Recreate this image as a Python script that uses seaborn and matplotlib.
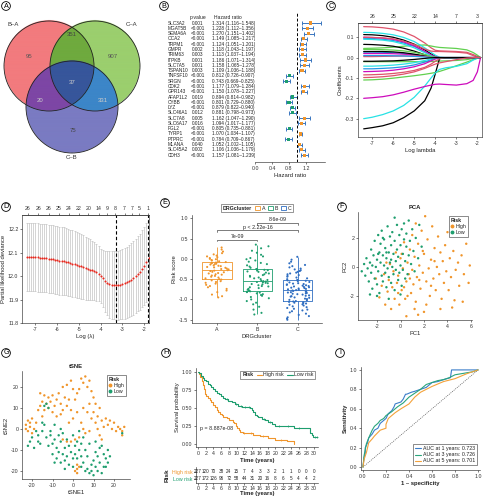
import numpy as np
import pandas as pd
import seaborn as sns
import matplotlib.pyplot as plt
import matplotlib.colors as mcolors
from matplotlib.patches import Circle, Patch
from matplotlib.lines import Line2D

# ---------------- data ----------------
# A  Venn
venn_sets = ['B–A', 'C–A', 'C–B']
venn_regions = ['100', '110', '010', '111', '101', '011', '001']
venn_counts = [95, 351, 907, 37, 20, 331, 75]

# B  univariate Cox
genes = ['SLC3A2', 'MGAT5B', 'SEMA6A', 'OCA2', 'TRPM1', 'GMPR', 'TRIM63', 'ITPKB', 'SLC7A5',
         'TSPAN10', 'TNFSF10', 'SRGN', 'CDK2', 'GPR143', 'AFAP1L2', 'CYBB', 'LYZ', 'SLC46A1',
         'SLC7A8', 'SLC6A17', 'FGL2', 'TYRP1', 'PTPRC', 'MLANA', 'SLC45A2', 'CDH3']
pvals = ['0.001', '<0.001', '<0.001', '<0.001', '<0.001', '0.002', '0.003', '0.001', '0.001',
         '0.003', '<0.001', '<0.001', '<0.001', '<0.001', '0.019', '<0.001', '<0.001', '0.012',
         '0.005', '0.016', '<0.001', '<0.001', '<0.001', '0.040', '0.002', '<0.001']
hr = [1.314, 1.228, 1.270, 1.149, 1.124, 1.118, 1.113, 1.186, 1.158, 1.109, 0.812, 0.743, 1.177,
      1.150, 0.894, 0.801, 0.879, 0.881, 1.162, 1.094, 0.805, 1.070, 0.784, 1.052, 1.106, 1.157]
hr_lo = [1.116, 1.112, 1.151, 1.085, 1.051, 1.043, 1.037, 1.071, 1.065, 1.036, 0.726, 0.669, 1.079,
         1.078, 0.814, 0.729, 0.822, 0.798, 1.047, 1.017, 0.735, 1.034, 0.709, 1.002, 1.036, 1.081]
hr_hi = [1.548, 1.356, 1.402, 1.217, 1.201, 1.197, 1.194, 1.314, 1.278, 1.188, 0.907, 0.825, 1.284,
         1.227, 0.982, 0.880, 0.940, 0.973, 1.290, 1.177, 0.881, 1.107, 0.867, 1.105, 1.179, 1.239]

# C  lasso coefficient paths
lasso_loglam = [-7.4, -7.0, -6.5, -6.0, -5.5, -5.0, -4.5, -4.2, -4.0, -3.8, -3.5, -3.0, -2.5, -2.2, -2.0, -1.85]
lasso_coefs = [
    [0.113, 0.112, 0.108, 0.100, 0.086, 0.066, 0.038, 0.018, 0.006, 0, 0, 0, 0, 0, 0, 0],
    [0.152, 0.151, 0.147, 0.140, 0.126, 0.104, 0.072, 0.048, 0.036, 0.033, 0.032, 0.030, 0.026, 0.015, 0.006, 0],
    [0.045, 0.046, 0.048, 0.051, 0.056, 0.060, 0.062, 0.057, 0.053, 0.050, 0.048, 0.045, 0.038, 0.025, 0.012, 0],
    [0.095, 0.094, 0.090, 0.084, 0.072, 0.055, 0.030, 0.012, 0.003, 0, 0, 0, 0, 0, 0, 0],
    [0.124, 0.123, 0.119, 0.112, 0.099, 0.079, 0.048, 0.026, 0.012, 0.002, 0, 0, 0, 0, 0, 0],
    [0.100, 0.099, 0.096, 0.090, 0.077, 0.058, 0.031, 0.013, 0.004, 0, 0, 0, 0, 0, 0, 0],
    [0.065, 0.064, 0.061, 0.056, 0.046, 0.032, 0.014, 0.004, 0, 0, 0, 0, 0, 0, 0, 0],
    [0.100, 0.099, 0.097, 0.092, 0.081, 0.064, 0.042, 0.032, 0.030, 0.030, 0.029, 0.027, 0.022, 0.010, 0.002, 0],
    [-0.020, -0.020, -0.020, -0.020, -0.020, -0.020, -0.020, -0.019, -0.018, -0.017, -0.016, -0.014, -0.010, -0.004, 0, 0],
    [0.027, 0.027, 0.026, 0.024, 0.020, 0.014, 0.006, 0.001, 0, 0, 0, 0, 0, 0, 0, 0],
    [0.090, 0.089, 0.086, 0.079, 0.066, 0.048, 0.024, 0.008, 0.001, 0, 0, 0, 0, 0, 0, 0],
    [0.020, 0.020, 0.020, 0.019, 0.017, 0.013, 0.007, 0.002, 0, 0, 0, 0, 0, 0, 0, 0],
    [0.030, 0.030, 0.030, 0.028, 0.024, 0.017, 0.008, 0.002, 0, 0, 0, 0, 0, 0, 0, 0],
    [0.005, 0.005, 0.006, 0.007, 0.008, 0.008, 0.006, 0.003, 0.001, 0, 0, 0, 0, 0, 0, 0],
    [-0.110, -0.109, -0.106, -0.101, -0.095, -0.089, -0.082, -0.077, -0.073, -0.068, -0.058, -0.040, -0.022, -0.010, -0.003, 0],
    [-0.055, -0.055, -0.053, -0.050, -0.045, -0.036, -0.022, -0.010, -0.004, 0, 0, 0, 0, 0, 0, 0],
    [-0.042, -0.042, -0.040, -0.037, -0.032, -0.025, -0.014, -0.006, -0.002, 0, 0, 0, 0, 0, 0, 0],
    [-0.069, -0.068, -0.066, -0.062, -0.055, -0.045, -0.030, -0.016, -0.007, 0, 0, 0, 0, 0, 0, 0],
    [-0.350, -0.344, -0.335, -0.320, -0.295, -0.262, -0.212, -0.150, -0.080, -0.005, 0, 0, 0, 0, 0, 0],
    [-0.085, -0.084, -0.082, -0.078, -0.072, -0.063, -0.048, -0.032, -0.018, -0.006, 0, 0, 0, 0, 0, 0],
    [0.040, 0.040, 0.039, 0.037, 0.033, 0.026, 0.015, 0.006, 0.001, 0, 0, 0, 0, 0, 0, 0],
    [0.010, 0.010, 0.010, 0.009, 0.008, 0.006, 0.003, 0.001, 0, 0, 0, 0, 0, 0, 0, 0],
    [-0.300, -0.293, -0.280, -0.262, -0.235, -0.195, -0.140, -0.100, -0.075, -0.058, -0.050, -0.043, -0.030, -0.012, -0.003, 0],
    [-0.200, -0.197, -0.192, -0.183, -0.170, -0.155, -0.142, -0.135, -0.131, -0.130, -0.132, -0.135, -0.128, -0.112, -0.070, 0],
    [-0.018, -0.018, -0.017, -0.016, -0.013, -0.009, -0.004, -0.001, 0, 0, 0, 0, 0, 0, 0, 0],
    [-0.098, -0.097, -0.094, -0.089, -0.081, -0.070, -0.053, -0.040, -0.032, -0.026, -0.020, -0.010, -0.002, 0, 0, 0],
]
lasso_top_pos = [-7, -6, -5, -4, -3, -2]
lasso_top_lab = ['26', '25', '22', '14', '7', '3']

# D  cross validation
cv_loglam = [-7.4, -7.3, -7.2, -7.1, -7.0, -6.9, -6.8, -6.7, -6.6, -6.5, -6.4, -6.3, -6.2, -6.1, -6.0,
             -5.9, -5.8, -5.7, -5.6, -5.5, -5.4, -5.3, -5.2, -5.1, -5.0, -4.9, -4.8, -4.7, -4.6, -4.5,
             -4.4, -4.3, -4.2, -4.1, -4.0, -3.9, -3.8, -3.7, -3.6, -3.5, -3.4, -3.3, -3.2, -3.1, -3.0,
             -2.9, -2.8, -2.7, -2.6, -2.5, -2.4, -2.3, -2.2, -2.1, -2.0, -1.9, -1.8]
cv_mean = [12.082, 12.082, 12.081, 12.081, 12.080, 12.079, 12.078, 12.077, 12.076, 12.075, 12.074,
           12.072, 12.071, 12.069, 12.068, 12.066, 12.065, 12.063, 12.061, 12.058, 12.056, 12.053,
           12.050, 12.047, 12.044, 12.041, 12.037, 12.034, 12.030, 12.027, 12.024, 12.020, 12.016,
           12.010, 12.001, 11.990, 11.978, 11.970, 11.965, 11.962, 11.961, 11.960, 11.961, 11.963,
           11.966, 11.969, 11.973, 11.979, 11.985, 11.992, 12.000, 12.009, 12.019, 12.031, 12.044,
           12.059, 12.075]
cv_se = [0.145, 0.145, 0.145, 0.145, 0.145, 0.145, 0.145, 0.145, 0.145, 0.145, 0.145, 0.145, 0.145,
         0.145, 0.145, 0.145, 0.144, 0.144, 0.143, 0.143, 0.142, 0.142, 0.141, 0.140, 0.139, 0.138,
         0.136, 0.134, 0.132, 0.130, 0.127, 0.124, 0.121, 0.118, 0.116, 0.122, 0.130, 0.137, 0.142,
         0.145, 0.146, 0.146, 0.147, 0.148, 0.149, 0.150, 0.151, 0.152, 0.154, 0.156, 0.158, 0.160,
         0.162, 0.164, 0.166, 0.168, 0.170]
cv_lines = [-3.32, -1.83]
cv_top_pos = [-7.35, -6.87, -6.39, -5.92, -5.46, -5.0, -4.57, -4.09, -3.71, -3.33, -2.90, -2.57, -2.24, -1.81]
cv_top_lab = ['26', '26', '26', '25', '24', '22', '20', '14', '9', '8', '7', '7', '5', '1']

# E  risk score by cluster
risk_A = [-0.95, -0.92, -0.88, -0.82, -0.78, -0.74, -0.70, -0.67, -0.64, -0.61, -0.59, -0.57, -0.55,
          -0.53, -0.51, -0.50, -0.48, -0.46, -0.44, -0.42, -0.41, -0.39, -0.38, -0.36, -0.35, -0.33,
          -0.32, -0.30, -0.29, -0.28, -0.26, -0.25, -0.24, -0.22, -0.21, -0.20, -0.18, -0.17, -0.16,
          -0.14, -0.13, -0.12, -0.11, -0.10, -0.09, -0.08, -0.06, -0.04, -0.03, -0.01, 0.00, 0.02,
          0.04, 0.06, 0.08, 0.11, 0.14, 0.18, 0.23, 0.28]
risk_B = [-1.37, -1.33, -1.25, -1.18, -1.12, -1.08, -1.04, -1.00, -0.97, -0.94, -0.91, -0.89, -0.87,
          -0.85, -0.83, -0.82, -0.81, -0.80, -0.78, -0.76, -0.74, -0.72, -0.70, -0.68, -0.67, -0.65,
          -0.63, -0.62, -0.60, -0.59, -0.58, -0.57, -0.56, -0.55, -0.54, -0.52, -0.50, -0.48, -0.46,
          -0.44, -0.42, -0.40, -0.38, -0.36, -0.34, -0.32, -0.31, -0.29, -0.28, -0.27, -0.26, -0.25,
          -0.22, -0.19, -0.16, -0.13, -0.10, -0.07, -0.04, -0.01, 0.02, 0.06, 0.10, 0.15, 0.20, 0.26,
          0.31, 0.35]
risk_C = [-1.50, -1.47, -1.44, -1.41, -1.38, -1.35, -1.32, -1.29, -1.27, -1.25, -1.23, -1.21, -1.19,
          -1.17, -1.15, -1.13, -1.12, -1.10, -1.09, -1.08, -1.07, -1.06, -1.05, -1.04, -1.02, -1.01,
          -0.99, -0.98, -0.96, -0.95, -0.93, -0.92, -0.91, -0.90, -0.88, -0.87, -0.86, -0.85, -0.84,
          -0.83, -0.82, -0.81, -0.80, -0.79, -0.78, -0.77, -0.76, -0.75, -0.74, -0.73, -0.72, -0.71,
          -0.70, -0.69, -0.68, -0.67, -0.66, -0.65, -0.64, -0.63, -0.62, -0.61, -0.60, -0.58, -0.57,
          -0.55, -0.54, -0.53, -0.52, -0.50, -0.48, -0.46, -0.44, -0.42, -0.40, -0.38, -0.36, -0.34,
          -0.32, -0.30, -0.28, -0.26, -0.24, -0.21, -0.18, -0.15, -0.11, -0.07, -0.02, 0.05]
clusters = ['A', 'B', 'C']
compare_pairs = [(0, 1), (0, 2), (1, 2)]
compare_p = ['7e-09', 'p < 2.22e-16', '8.6e-09']
compare_y = [0.475, 0.70, 0.885]

# F  PCA
pca_low = [(-3.3, -0.3), (-3.1, 0.2), (-3.0, -0.6), (-2.9, 0.6), (-2.8, -0.1), (-2.7, -1.0), (-2.6, 0.3),
           (-2.5, 1.2), (-2.5, -0.4), (-2.4, -1.5), (-2.3, 0.8), (-2.2, -0.8), (-2.2, 1.8), (-2.1, 0.0),
           (-2.0, 0.5), (-2.0, -1.2), (-1.9, 2.2), (-1.9, -0.3), (-1.8, 1.0), (-1.8, -1.8), (-1.7, 0.3),
           (-1.7, 1.6), (-1.6, -0.6), (-1.6, 2.5), (-1.5, 0.8), (-1.5, -1.0), (-1.4, 0.1), (-1.4, 1.9),
           (-1.3, -0.4), (-1.3, 1.3), (-1.2, -1.4), (-1.2, 0.6), (-1.1, 2.8), (-1.1, -0.1), (-1.0, 1.0),
           (-1.0, -0.7), (-0.9, 2.1), (-0.9, 0.3), (-0.8, -1.1), (-0.8, 1.5), (-0.7, 0.0), (-0.7, 2.4),
           (-0.6, -0.5), (-0.6, 0.9), (-0.5, 1.8), (-0.5, -1.6), (-0.4, 0.4), (-0.4, -0.2), (-0.3, 1.2),
           (-0.3, 2.9), (-0.2, -0.9), (-0.2, 0.7), (-0.1, 2.2), (-0.1, -0.4), (0.0, 1.5), (0.0, 0.1),
           (0.1, -1.3), (0.1, 2.6), (0.2, 0.9), (0.2, -0.2), (0.3, 1.9), (0.3, 3.0), (0.4, 0.4),
           (0.4, -0.8), (0.5, 1.4), (0.5, 2.3), (0.6, -0.5), (0.7, 0.8), (0.7, 3.2), (0.8, 1.8),
           (0.9, 0.2), (1.0, 2.6), (1.1, 1.1), (1.2, -0.3), (1.3, 2.0), (1.5, 0.6), (1.6, 2.9),
           (1.8, 1.4), (-2.0, -2.0), (-1.0, -2.2), (0.0, -1.9), (-2.6, -1.9), (-0.5, 3.4), (-1.5, 2.0),
           (-1.2, 1.0), (-0.8, 0.5), (-1.9, 0.9), (-2.4, 0.1)]
pca_high = [(-2.1, -0.8), (-1.8, -2.1), (-1.6, -1.3), (-1.4, -0.5), (-1.3, -2.6), (-1.1, -1.7), (-1.0, -0.9),
            (-0.9, 0.2), (-0.8, -2.9), (-0.7, -1.4), (-0.6, -0.3), (-0.5, -2.2), (-0.4, 1.0), (-0.3, -1.1),
            (-0.2, -0.6), (-0.1, -2.6), (0.0, 0.6), (0.1, -1.6), (0.2, -0.1), (0.3, 1.7), (0.4, -2.2),
            (0.5, -1.0), (0.5, -3.4), (0.6, 0.3), (0.7, -0.5), (0.8, 1.2), (0.9, -1.8), (1.0, 2.2),
            (1.0, -0.2), (1.1, -1.2), (1.2, 0.7), (1.3, -2.4), (1.3, 3.0), (1.4, -0.7), (1.5, 1.6),
            (1.6, 0.1), (1.7, -1.5), (1.8, 2.5), (1.9, -0.4), (2.0, 0.9), (2.0, -3.1), (2.1, 3.5),
            (2.2, -1.0), (2.3, 1.9), (2.4, -0.1), (2.5, -2.0), (2.6, 0.5), (2.7, 2.8), (2.8, -0.8),
            (2.9, 1.3), (3.0, -1.6), (3.1, 0.0), (3.2, 2.1), (3.3, -0.5), (3.4, 1.0), (3.5, -2.2),
            (3.6, 0.4), (3.7, -1.1), (3.8, 1.5), (3.9, -0.3), (4.0, 2.4), (4.1, -1.6), (4.2, 0.6),
            (4.3, -0.7), (4.5, 1.1), (4.6, -2.3), (4.7, -0.2), (4.9, 0.3), (5.0, -1.3), (5.2, 0.8),
            (5.4, -0.5), (5.6, 1.6), (5.8, -1.1), (5.9, 0.1), (1.2, -2.9), (0.3, -1.4), (0.8, -0.8),
            (-0.2, -1.8), (1.6, -0.9), (2.6, -1.3), (0.1, 0.9), (1.9, 1.1), (3.4, -2.9), (2.2, -2.6),
            (-1.2, 0.3), (0.6, -2.0), (1.5, -3.3), (2.9, 0.4), (4.4, -2.8), (5.3, -2.4)]

# G  tSNE
tsne_high = [(-23, 2), (-22, 4), (-21, 1), (-20, 5), (-22, -1), (-21, 3), (-19, 0), (-20, -2), (-18, 3), (-23, 0),
             (-16, 17), (-14, 16), (-12, 15), (-15, 13), (-13, 12), (-11, 13), (-16, 11), (-14, 9), (-12, 10),
             (-10, 8), (-9, 11), (-8, 14), (-7, 17), (-6, 12), (-5, 9), (-4, 15), (-3, 11), (-6, 7), (-10, 16),
             (-17, 9), (-15, 6), (-8, 6), (-2, 14), (-1, 9), (-3, 21), (-1, 23), (0, 19), (2, 17), (4, 24),
             (5, 22), (6, 25), (7, 20), (8, 23), (3, 19), (1, 14), (9, 18), (10, 15), (11, 12), (-5, 20),
             (5, 10), (7, 8), (8, 12), (9, 5), (10, 8), (11, 3), (12, 6), (13, 10), (14, 4), (15, 1), (16, 5),
             (17, 2), (18, 4), (19, 0), (20, 3), (21, -1), (22, 1), (23, 0), (24, -1), (25, 1), (24, -3),
             (12, 0), (13, -3), (14, -5), (0, 5), (-2, 3), (2, 8), (4, 3), (6, -2), (3, -4), (1, -5),
             (-1, -6), (-3, -6), (-5, -5), (8, -1), (5, 0), (2, -17), (2, -19), (2, -21), (1, -20), (3, -18)]
tsne_low = [(-22, -8), (-21, -6), (-20, -4), (-19, -9), (-17, -3), (-16, -7), (-15, -1), (-14, 2), (-13, -4),
            (-12, -8), (-15, 3), (-13, 12), (-12, 10), (-14, 11), (-11, -3), (-10, -7), (-10, -12), (-9, -5),
            (-8, -9), (-8, -14), (-7, -3), (-7, -11), (-6, -6), (-6, -16), (-5, -12), (-5, -2), (-4, -9),
            (-4, -15), (-3, -5), (-3, -13), (-2, -8), (-2, -17), (-1, -11), (0, -3), (0, -14), (1, -8),
            (1, -12), (2, -6), (2, -14), (3, -10), (3, -1), (4, -7), (4, -13), (5, -4), (5, -16), (6, -10),
            (6, -20), (7, -19), (7, -13), (8, -21), (8, -7), (9, -17), (9, -20), (10, -15), (10, -22),
            (11, -11), (11, -18), (12, -13), (12, -20), (13, -9), (13, -16), (14, -21), (15, -12), (15, -18),
            (16, -14), (17, -10), (17, -16), (18, -13), (-9, 2), (-11, -1), (-18, -1), (-17, -6), (-6, 0),
            (-4, -19), (-9, -16), (0, -18), (4, -18), (14, -8), (11, -6), (24, -2), (16, -18)]

# H  Kaplan-Meier
km_high_t = [0, 0.3, 0.6, 1.0, 1.3, 1.6, 1.9, 2.2, 2.6, 3.1, 3.5, 4.0, 4.4, 4.8, 5.2, 5.7, 6.1, 6.5, 7.0,
             7.4, 8.0, 8.3, 9.0, 9.4, 9.7, 10.2, 10.6, 10.9, 11.7, 14.3, 16.0, 18.2, 19.0, 20.0, 23.0, 24.7]
km_high_s = [1.0, 0.97, 0.93, 0.87, 0.82, 0.76, 0.70, 0.67, 0.64, 0.61, 0.58, 0.54, 0.51, 0.47, 0.45,
             0.42, 0.40, 0.38, 0.37, 0.36, 0.34, 0.33, 0.31, 0.29, 0.25, 0.22, 0.20, 0.17, 0.15, 0.125,
             0.115, 0.09, 0.08, 0.055, 0.04, 0.005]
km_low_t = [0, 0.4, 0.8, 1.2, 1.6, 2.0, 2.5, 3.0, 3.5, 4.0, 4.5, 5.0, 5.5, 6.0, 6.5, 7.0, 7.8, 8.7, 9.6,
            10.4, 11.5, 12.6, 13.4, 13.9, 14.3, 14.7, 15.2, 15.6, 16.5, 17.3, 18.2, 19.0, 19.9, 24.7,
            29.0, 29.5, 29.8, 31.0]
km_low_s = [1.0, 0.98, 0.95, 0.92, 0.89, 0.87, 0.84, 0.82, 0.79, 0.76, 0.73, 0.71, 0.69, 0.66, 0.64,
            0.62, 0.60, 0.58, 0.55, 0.53, 0.52, 0.51, 0.50, 0.47, 0.44, 0.41, 0.39, 0.37, 0.35, 0.33,
            0.31, 0.28, 0.25, 0.22, 0.15, 0.12, 0.10, 0.10]
censor_high = [11.9, 13.8, 16.8, 21.5]
censor_low = [7.4, 9.8, 11.0, 12.2, 13.2, 17.0, 18.6, 21.0, 23.2, 26.0, 30.2, 30.7]
risk_times = [0, 2, 4, 6, 8, 10, 12, 14, 16, 18, 20, 22, 24, 26, 28, 30]
at_risk_high = [227, 120, 70, 38, 24, 15, 7, 4, 3, 3, 2, 1, 1, 0, 0, 0]
at_risk_low = [227, 172, 126, 96, 72, 58, 44, 31, 20, 16, 8, 6, 5, 4, 4, 2]
km_p = 'p = 8.887e-08'

# I  time-dependent ROC
roc_labels = ['AUC at 1 years: 0.723', 'AUC at 3 years: 0.726', 'AUC at 5 years: 0.701']
roc1_fpr = [0, 0.01, 0.02, 0.02, 0.04, 0.05, 0.08, 0.10, 0.13, 0.15, 0.18, 0.20, 0.22, 0.25, 0.27, 0.28, 0.33,
            0.35, 0.37, 0.38, 0.42, 0.45, 0.50, 0.55, 0.60, 0.65, 0.70, 0.76, 0.77, 0.85, 1.0]
roc1_tpr = [0, 0.10, 0.14, 0.20, 0.25, 0.30, 0.34, 0.38, 0.40, 0.45, 0.48, 0.50, 0.55, 0.58, 0.62, 0.65, 0.67,
            0.70, 0.75, 0.75, 0.77, 0.78, 0.80, 0.82, 0.87, 0.88, 0.90, 0.92, 1.0, 1.0, 1.0]
roc3_fpr = [0, 0.01, 0.02, 0.03, 0.05, 0.08, 0.10, 0.13, 0.15, 0.18, 0.20, 0.25, 0.30, 0.35, 0.40, 0.45, 0.50,
            0.55, 0.60, 0.65, 0.70, 0.75, 0.80, 0.85, 0.90, 0.95, 1.0]
roc3_tpr = [0, 0.12, 0.18, 0.24, 0.30, 0.38, 0.42, 0.45, 0.48, 0.50, 0.53, 0.57, 0.62, 0.66, 0.72, 0.76, 0.80,
            0.85, 0.87, 0.89, 0.90, 0.92, 0.95, 0.96, 0.97, 0.98, 1.0]
roc5_fpr = [0, 0.01, 0.03, 0.05, 0.08, 0.10, 0.15, 0.20, 0.20, 0.22, 0.28, 0.33, 0.40, 0.45, 0.50, 0.55, 0.60,
            0.70, 0.80, 0.90, 1.0]
roc5_tpr = [0, 0.08, 0.15, 0.25, 0.29, 0.32, 0.38, 0.40, 0.44, 0.50, 0.56, 0.60, 0.65, 0.72, 0.77, 0.80, 0.83,
            0.88, 0.91, 0.96, 1.0]

# ---------------- style ----------------
ORANGE = '#F0952B'
GREEN = '#1E9E6E'
BLUE = '#2F6EC1'
W, H = 487, 500

sns.set_theme(style='ticks')
plt.rcParams.update({
    'font.family': ['Liberation Sans', 'DejaVu Sans'],
    'font.size': 4, 'axes.labelsize': 4.2, 'xtick.labelsize': 3.8, 'ytick.labelsize': 3.8,
    'axes.linewidth': 0.45, 'xtick.major.width': 0.45, 'ytick.major.width': 0.45,
    'xtick.major.size': 1.6, 'ytick.major.size': 1.6, 'xtick.major.pad': 1, 'ytick.major.pad': 1,
    'axes.labelpad': 1.5, 'axes.unicode_minus': False, 'axes.edgecolor': '#333333',
    'xtick.color': '#333333', 'ytick.color': '#333333', 'text.color': '#222222',
    'axes.labelcolor': '#222222', 'legend.fontsize': 3.6, 'legend.title_fontsize': 3.8,
})

fig = plt.figure(figsize=(W / 100, H / 100), dpi=100)


def px_axes(l, t, r, b):
    return fig.add_axes([l / W, 1 - b / H, (r - l) / W, (b - t) / H])


def panel_tag(x, y, s):
    fig.text(x / W, 1 - y / H, s, ha='center', va='center', fontsize=5.2, color='black',
             bbox=dict(boxstyle='circle,pad=0.12', fc='white', ec='black', lw=0.6))


def title_left(leg):
    c = leg.get_children()[0]
    title = c.get_children()[0]
    hpack = c.get_children()[1]
    c._children = [hpack]
    hpack._children = [title] + hpack.get_children()


# ---------------- A: Venn ----------------
ax = px_axes(0, 0, 160, 165)
circles = [(49, 66, 45), (95, 66, 45), (72, 107, 46)]
region_colors = ['#F27B7E', '#6FAA3E', '#9BCF6E', '#37569B', '#7D46A5', '#3C86C8', '#7A7BC2']
gx, gy = np.meshgrid(np.linspace(0, 160, 800), np.linspace(0, 165, 825))
inside = [((gx - cx) ** 2 + (gy - cy) ** 2) <= r ** 2 for cx, cy, r in circles]
img = np.ones(gx.shape + (3,))
for code, col in zip(venn_regions, region_colors):
    m = np.ones(gx.shape, bool)
    for k in range(3):
        m &= inside[k] == (code[k] == '1')
    img[m] = mcolors.to_rgb(col)
ax.imshow(img, extent=(0, 160, 165, 0), aspect='auto', interpolation='antialiased')
for cx, cy, r in circles:
    ax.add_patch(Circle((cx, cy), r, fill=False, ec='#222222', lw=0.6))
count_pos = [(29, 57), (72, 35), (113, 57), (72, 82), (40, 100), (103, 100), (73, 130)]
count_col = ['#555555', '#444444', '#555555', '#cccccc', '#cccccc', '#cccccc', '#444444']
for n, (x, y), c in zip(venn_counts, count_pos, count_col):
    ax.text(x, y, str(n), ha='center', va='center', fontsize=4.3, color=c)
for s, (x, y) in zip(venn_sets, [(13, 25), (132, 25), (72, 157)]):
    ax.text(x, y, s, ha='center', va='center', fontsize=4.3, color='#333333')
ax.set_xlim(0, 160)
ax.set_ylim(165, 0)
ax.axis('off')

# ---------------- B: forest ----------------
rows = np.arange(len(genes))
tab = px_axes(165, 13, 252, 162)
tab.set_xlim(0, 1)
tab.set_ylim(26.3, -1.9)
tab.axis('off')
tab.text(0.38, -1.1, 'p-value', ha='center', va='center', fontsize=3.6)
tab.text(0.72, -1.1, 'Hazard ratio', ha='center', va='center', fontsize=3.6)
for i, g in enumerate(genes):
    tab.text(0.03, i, g, va='center', fontsize=3.4)
    tab.text(0.38, i, pvals[i], ha='center', va='center', fontsize=3.4)
    tab.text(0.535, i, f'{hr[i]:.3f} ({hr_lo[i]:.3f}–{hr_hi[i]:.3f})', va='center', fontsize=3.4)

fp = px_axes(255, 13, 325, 162)
hr_a, lo_a, hi_a = np.array(hr), np.array(hr_lo), np.array(hr_hi)
fp.errorbar(hr_a, rows, xerr=[hr_a - lo_a, hi_a - hr_a], fmt='none', ecolor='#3A76C0',
            elinewidth=0.7, capsize=1.3, capthick=0.7)
fp.scatter(hr_a, rows, marker='s', s=5, c=[ORANGE if h > 1 else GREEN for h in hr], zorder=3, linewidths=0)
fp.axvline(1, ls=(0, (3, 2)), color='black', lw=0.7)
fp.set_xlim(0, 1.65)
fp.set_ylim(26.3, -1.9)
fp.set_xticks([0, 0.4, 0.8, 1.2])
fp.set_yticks([])
sns.despine(ax=fp, left=True)
fp.set_xlabel('Hazard ratio')

# ---------------- C: lasso paths ----------------
glmnet_cols = ['black', '#DF536B', '#61D04F', '#2297E6', '#28E2E5', '#CD0BBC']
ax = px_axes(358, 23, 482, 137)
for i, coefs in enumerate(lasso_coefs):
    ax.plot(lasso_loglam, coefs, color=glmnet_cols[i % 6], lw=0.9)
ax.set_xlim(-7.67, -1.78)
ax.set_ylim(-0.39, 0.17)
ax.set_xticks([-7, -6, -5, -4, -3, -2])
ax.set_yticks([-0.3, -0.2, -0.1, 0.0, 0.1])
ax.set_xlabel('Log lambda')
ax.set_ylabel('Coefficients')
top = ax.secondary_xaxis('top')
top.set_xticks(lasso_top_pos, labels=lasso_top_lab)

# ---------------- D: CV deviance ----------------
ax = px_axes(22, 215, 149, 323)
ax.errorbar(cv_loglam, cv_mean, yerr=cv_se, fmt='none', ecolor='#BDBDBD', elinewidth=0.45,
            capsize=0.9, capthick=0.45)
ax.scatter(cv_loglam, cv_mean, s=2.2, color='#E8281E', zorder=3, linewidths=0)
for v in cv_lines:
    ax.axvline(v, ls=(0, (3, 2)), color='black', lw=0.8)
ax.set_xlim(-7.62, -1.78)
ax.set_ylim(11.8, 12.26)
ax.set_xticks([-7, -6, -5, -4, -3, -2])
ax.set_yticks([11.8, 11.9, 12.0, 12.1, 12.2])
ax.set_xlabel('Log (λ)')
ax.set_ylabel('Partial likelihood deviance')
top = ax.secondary_xaxis('top')
top.set_xticks(cv_top_pos, labels=cv_top_lab)

# ---------------- E: box + jitter ----------------
ax = px_axes(192, 215, 322, 323)
df_e = pd.DataFrame({'DRGcluster': ['A'] * len(risk_A) + ['B'] * len(risk_B) + ['C'] * len(risk_C),
                     'Risk score': risk_A + risk_B + risk_C})
pal_e = dict(zip(clusters, [ORANGE, GREEN, BLUE]))
sns.boxplot(data=df_e, x='DRGcluster', y='Risk score', hue='DRGcluster', order=clusters, palette=pal_e,
            fill=False, width=0.72, linewidth=0.6, showfliers=False, showcaps=False, legend=False, ax=ax)
np.random.seed(3)
sns.stripplot(data=df_e, x='DRGcluster', y='Risk score', hue='DRGcluster', order=clusters, palette=pal_e,
              jitter=0.3, size=1.5, linewidth=0, legend=False, ax=ax)
for (a, b), lab, y in zip(compare_pairs, compare_p, compare_y):
    ax.plot([a, a, b, b], [y - 0.04, y, y, y - 0.04], color='#333333', lw=0.45)
    ax.text((a + b) / 2, y + 0.02, lab, ha='center', va='bottom', fontsize=3.8)
ax.set_xlim(-0.62, 2.6)
ax.set_ylim(-1.58, 1.08)
ax.set_yticks([-1.5, -1.0, -0.5, 0.0, 0.5, 1.0])
sns.despine(ax=ax)
handles = [Patch(fc='white', ec=pal_e[c], lw=0.6) for c in clusters]
leg = ax.legend(handles, clusters, title='DRGcluster', ncol=3, loc='lower center',
                bbox_to_anchor=(0.5, 1.0), frameon=True, fancybox=False, edgecolor='#333333',
                handlelength=0.9, handleheight=0.9, handletextpad=0.3, columnspacing=0.6,
                borderpad=0.35, fontsize=3.8)
leg.get_frame().set_linewidth(0.45)
leg.get_title().set_fontweight('bold')
title_left(leg)

# ---------------- F: PCA ----------------
ax = px_axes(358, 212, 472, 320)
df_f = pd.DataFrame(pca_high + pca_low, columns=['PC1', 'PC2'])
df_f['Risk'] = ['High'] * len(pca_high) + ['Low'] * len(pca_low)
pal_r = {'High': ORANGE, 'Low': GREEN}
sns.scatterplot(data=df_f, x='PC1', y='PC2', hue='Risk', palette=pal_r, s=3, linewidth=0,
                legend=False, ax=ax)
ax.set_xlim(-3.62, 6.09)
ax.set_ylim(-3.66, 3.79)
ax.set_xticks([-2, 0, 2, 4, 6])
ax.set_yticks([-2, 0, 2])
ax.set_title('PCA', fontsize=4.2, fontweight='bold', pad=2)
sns.despine(ax=ax)


def risk_legend(ax):
    hs = [Line2D([], [], marker='o', ls='', ms=1.8, color=pal_r[k]) for k in ['High', 'Low']]
    leg = ax.legend(hs, ['High', 'Low'], title='Risk', loc='upper right', bbox_to_anchor=(0.99, 0.99),
                    frameon=True, fancybox=False, edgecolor='#333333', handlelength=0.6,
                    handletextpad=0.3, borderpad=0.35, labelspacing=0.25, fontsize=3.8)
    leg.get_frame().set_linewidth(0.5)
    leg.get_title().set_fontweight('bold')
    leg._legend_box.align = 'left'


risk_legend(ax)

# ---------------- G: tSNE ----------------
ax = px_axes(22, 371, 130, 479)
df_g = pd.DataFrame(tsne_high + tsne_low, columns=['tSNE1', 'tSNE2'])
df_g['Risk'] = ['High'] * len(tsne_high) + ['Low'] * len(tsne_low)
sns.scatterplot(data=df_g, x='tSNE1', y='tSNE2', hue='Risk', palette=pal_r, s=3, linewidth=0,
                legend=False, ax=ax)
ax.set_xlim(-24.9, 27.8)
ax.set_ylim(-23.8, 27.6)
ax.set_xticks([-20, -10, 0, 10, 20])
ax.set_yticks([-20, -10, 0, 10, 20])
ax.set_title('tSNE', fontsize=4.2, fontweight='bold', pad=2)
sns.despine(ax=ax)
risk_legend(ax)

# ---------------- H: KM ----------------
ax = px_axes(196, 368, 318, 447)
for t, s, cen, col in [(km_high_t, km_high_s, censor_high, ORANGE), (km_low_t, km_low_s, censor_low, GREEN)]:
    ax.step(t, s, where='post', color=col, lw=0.8)
    idx = np.searchsorted(t, cen, side='right') - 1
    ax.plot(cen, np.array(s)[idx], ls='', marker='+', ms=2, mew=0.5, color=col)
ax.text(0.6, 0.22, km_p, ha='left', va='center', fontsize=3.8)
ax.set_xlim(-0.5, 31)
ax.set_ylim(-0.04, 1.055)
ax.set_xticks(risk_times)
ax.set_yticks([0, 0.25, 0.5, 0.75, 1.0], labels=['0.00', '0.25', '0.50', '0.75', '1.00'])
ax.set_xlabel('Time (years)', fontweight='bold')
ax.set_ylabel('Survival probability')
sns.despine(ax=ax)
hs = [Line2D([], [], color=ORANGE, lw=0.8), Line2D([], [], color=GREEN, lw=0.8)]
leg = ax.legend(hs, ['High risk', 'Low risk'], title='Risk', ncol=2, loc='upper right',
                bbox_to_anchor=(1.0, 1.0), frameon=True, fancybox=False, edgecolor='#333333',
                handlelength=1.0, handletextpad=0.3, columnspacing=0.6, borderpad=0.35, fontsize=3.8)
leg.get_frame().set_linewidth(0.45)
leg.get_title().set_fontweight('bold')
title_left(leg)

tb = px_axes(196, 467, 318, 483)
for row, vals in enumerate([at_risk_high, at_risk_low]):
    for t, v in zip(risk_times, vals):
        tb.text(t, row, str(v), ha='center', va='center', fontsize=3.3)
tb.set_xlim(-0.5, 31)
tb.set_ylim(1.6, -0.7)
tb.set_xticks(risk_times)
tb.tick_params(axis='x', pad=0.6, length=1.3)
tb.set_yticks([0, 1], labels=['High risk', 'Low risk'])
for lab, col in zip(tb.get_yticklabels(), [ORANGE, GREEN]):
    lab.set_color(col)
tb.set_xlabel('Time (years)', fontweight='bold', labelpad=0.6)
tb.set_ylabel('Risk', fontweight='bold', fontsize=4.6)
sns.despine(ax=tb)

# ---------------- I: ROC ----------------
ax = px_axes(361, 367, 480, 470)
df_i = pd.concat([
    pd.DataFrame({'fpr': roc1_fpr, 'tpr': roc1_tpr, 'curve': roc_labels[0]}),
    pd.DataFrame({'fpr': roc3_fpr, 'tpr': roc3_tpr, 'curve': roc_labels[1]}),
    pd.DataFrame({'fpr': roc5_fpr, 'tpr': roc5_tpr, 'curve': roc_labels[2]}),
], ignore_index=True)
ax.plot([0, 1], [0, 1], ls=(0, (1.5, 1.5)), color='#555555', lw=0.5)
sns.lineplot(data=df_i, x='fpr', y='tpr', hue='curve', palette=['#3A7DC9', '#2AA57C', '#F4A23A'],
             sort=False, estimator=None, lw=0.8, ax=ax)
ax.set_xlim(-0.017, 1.017)
ax.set_ylim(-0.03, 1.03)
ax.set_xticks([0, 0.2, 0.4, 0.6, 0.8, 1.0])
ax.set_yticks([0, 0.2, 0.4, 0.6, 0.8, 1.0])
ax.set_xlabel('1 – specificity', fontweight='bold')
ax.set_ylabel('Sensitivity', fontweight='bold')
sns.despine(ax=ax)
leg = ax.legend(title=None, loc='lower right', bbox_to_anchor=(1.0, 0.02), frameon=True, fancybox=False,
                edgecolor='#333333', handlelength=1.2, handletextpad=0.4, borderpad=0.35,
                labelspacing=0.2, fontsize=3.8)
leg.get_frame().set_linewidth(0.5)

# ---------------- panel tags ----------------
for (x, y), s in zip([(6, 6), (164, 6), (331, 6), (6, 207), (165, 203), (342, 207), (6, 353), (166, 353),
                      (340, 353)], 'ABCDEFGHI'):
    panel_tag(x, y, s)

fig.savefig('out.png', dpi=100)
